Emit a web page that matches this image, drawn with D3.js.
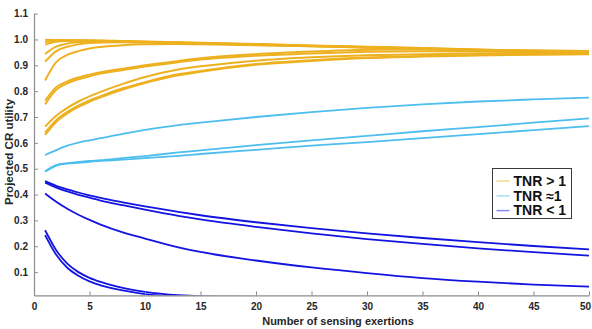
<!DOCTYPE html>
<html>
<head>
<meta charset="utf-8">
<script src="https://cdn.jsdelivr.net/npm/d3@7/dist/d3.min.js"></script>
<style>
  html, body { margin: 0; padding: 0; background: #fff; }
  svg { display: block; font-family: "Liberation Sans", Arial, sans-serif; }
</style>
</head>
<body>
<svg id="chart" width="592" height="329"></svg>
<script>
// Number of sensing exertions at which the projected utility was evaluated
const exertions = [1, 2, 3, 4, 5, 6, 8, 10, 13, 15, 20, 25, 30, 35, 40, 45, 50];

// TNR > 1
const tnrHigh = [
  [0.999, 0.998, 0.997, 0.997, 0.996, 0.996, 0.994, 0.992, 0.989, 0.987, 0.982, 0.977, 0.972, 0.967, 0.961, 0.955, 0.949],
  [0.990, 0.996, 0.997, 0.997, 0.996, 0.995, 0.993, 0.991, 0.988, 0.986, 0.981, 0.976, 0.971, 0.966, 0.960, 0.954, 0.948],
  [0.980, 0.991, 0.994, 0.995, 0.995, 0.994, 0.992, 0.990, 0.987, 0.985, 0.980, 0.975, 0.970, 0.965, 0.959, 0.953, 0.947],
  [0.944, 0.972, 0.984, 0.989, 0.991, 0.992, 0.991, 0.989, 0.987, 0.985, 0.980, 0.975, 0.970, 0.964, 0.958, 0.952, 0.946],
  [0.914, 0.955, 0.972, 0.981, 0.986, 0.988, 0.989, 0.988, 0.986, 0.984, 0.979, 0.974, 0.969, 0.963, 0.957, 0.952, 0.946],
  [0.841, 0.912, 0.940, 0.955, 0.965, 0.971, 0.978, 0.981, 0.982, 0.981, 0.978, 0.974, 0.968, 0.963, 0.958, 0.953, 0.947],
  [0.763, 0.815, 0.838, 0.853, 0.864, 0.873, 0.887, 0.900, 0.917, 0.927, 0.943, 0.953, 0.960, 0.962, 0.960, 0.958, 0.955],
  [0.749, 0.805, 0.830, 0.846, 0.858, 0.868, 0.882, 0.895, 0.912, 0.922, 0.937, 0.946, 0.952, 0.954, 0.953, 0.951, 0.950],
  [0.663, 0.705, 0.735, 0.760, 0.780, 0.797, 0.828, 0.855, 0.884, 0.896, 0.918, 0.931, 0.939, 0.943, 0.946, 0.947, 0.947],
  [0.640, 0.688, 0.720, 0.744, 0.764, 0.781, 0.811, 0.835, 0.865, 0.878, 0.905, 0.920, 0.930, 0.936, 0.940, 0.943, 0.944],
  [0.631, 0.681, 0.714, 0.739, 0.759, 0.776, 0.806, 0.831, 0.861, 0.875, 0.902, 0.917, 0.928, 0.934, 0.938, 0.941, 0.943]
];

// TNR ≈ 1
const tnrNear = [
  [0.553, 0.572, 0.589, 0.601, 0.610, 0.618, 0.635, 0.650, 0.669, 0.678, 0.700, 0.719, 0.735, 0.749, 0.760, 0.768, 0.775],
  [0.490, 0.514, 0.522, 0.526, 0.530, 0.533, 0.541, 0.549, 0.563, 0.571, 0.591, 0.610, 0.627, 0.645, 0.661, 0.678, 0.695],
  [0.488, 0.512, 0.520, 0.523, 0.527, 0.530, 0.535, 0.541, 0.550, 0.557, 0.573, 0.589, 0.603, 0.618, 0.634, 0.649, 0.665]
];

// TNR < 1
const tnrLow = [
  [0.452, 0.434, 0.420, 0.408, 0.397, 0.387, 0.370, 0.354, 0.333, 0.320, 0.293, 0.270, 0.250, 0.232, 0.216, 0.201, 0.188],
  [0.446, 0.427, 0.412, 0.399, 0.388, 0.377, 0.359, 0.342, 0.318, 0.304, 0.275, 0.250, 0.228, 0.209, 0.192, 0.177, 0.164],
  [0.404, 0.372, 0.345, 0.322, 0.302, 0.284, 0.254, 0.230, 0.196, 0.178, 0.145, 0.118, 0.096, 0.077, 0.063, 0.052, 0.044],
  [0.262, 0.185, 0.133, 0.100, 0.078, 0.062, 0.039, 0.024, 0.011, 0.007, 0.004, 0.003, 0.002, 0.002, 0.001, 0.001, 0.001],
  [0.243, 0.167, 0.117, 0.086, 0.064, 0.049, 0.029, 0.015, 0.006, 0.004, 0.003, 0.002, 0.001, 0.001, 0.001, 0.001, 0.001]
];

const groupNames = ["TNR > 1", "TNR \u22481", "TNR < 1"];
const groupColors = ["#EDB120", "#4DBEEE", "#1414E0"];
const legendColors = ["#F5D690", "#A6DEF6", "#8A8AF2"];
const xTicks = [0, 5, 10, 15, 20, 25, 30, 35, 40, 45, 50];
const yTicks = [0.1, 0.2, 0.3, 0.4, 0.5, 0.6, 0.7, 0.8, 0.9, 1.0, 1.1];

const svg = d3.select("#chart");

const x = d3.scaleLinear().domain([0, 50]).range([34, 589]);
const y = d3.scaleLinear().domain([0.01, 1.1]).range([295.4, 13.6]);

const axisColor = "#8c8c8c";
const textColor = "#262626";

// clip region for the plot area
svg.append("defs").append("clipPath").attr("id", "plot-clip")
  .append("rect")
  .attr("x", x(0)).attr("y", y(1.1))
  .attr("width", x(50) - x(0)).attr("height", y(0.01) - y(1.1));

// series
const line = d3.line()
  .x((d, i) => x(exertions[i]))
  .y(d => y(d))
  .curve(d3.curveMonotoneX);

const lines = svg.append("g").attr("clip-path", "url(#plot-clip)");
[tnrHigh, tnrNear, tnrLow].forEach((group, gi) => {
  lines.append("g")
    .selectAll("path")
    .data(group)
    .join("path")
    .attr("d", line)
    .attr("fill", "none")
    .attr("stroke", groupColors[gi])
    .attr("stroke-width", gi === 0 ? 2 : 1.8)
    .attr("stroke-linejoin", "round");
});

// axes with inward ticks
const xAxis = svg.append("g")
  .attr("transform", `translate(0,${y(0.01)})`)
  .call(d3.axisBottom(x).tickValues(xTicks).tickSizeInner(-4).tickSizeOuter(0).tickPadding(8));
const yAxis = svg.append("g")
  .attr("transform", `translate(${x(0)},0)`)
  .call(d3.axisLeft(y).tickValues(yTicks).tickFormat(d3.format(".1f")).tickSizeInner(-4).tickSizeOuter(0).tickPadding(6));

[xAxis, yAxis].forEach(g => {
  g.select(".domain").attr("stroke", axisColor).attr("stroke-width", 1.2);
  g.selectAll(".tick line").attr("stroke", axisColor).attr("stroke-width", 1);
  g.selectAll(".tick text")
    .attr("fill", textColor)
    .style("font-family", "'Liberation Sans', Arial, sans-serif")
    .style("font-size", "10px")
    .style("font-weight", "bold");
});
// keep the last x tick label inside the canvas
xAxis.selectAll(".tick text").filter(d => d === 50).attr("text-anchor", "end").attr("dx", "1.5");

// axis titles
svg.append("text")
  .attr("x", 338).attr("y", 325)
  .attr("text-anchor", "middle")
  .attr("fill", textColor)
  .style("font-size", "11px").style("font-weight", "bold")
  .text("Number of sensing exertions");

svg.append("text")
  .attr("transform", "translate(13,152) rotate(-90)")
  .attr("text-anchor", "middle")
  .attr("fill", textColor)
  .style("font-size", "11.5px").style("font-weight", "bold")
  .text("Projected CR utility");

// legend
const legend = svg.append("g").attr("transform", "translate(492.5,168.5)");
legend.append("rect")
  .attr("width", 79).attr("height", 50)
  .attr("fill", "#fff").attr("stroke", "#3a3a3a").attr("stroke-width", 1);
groupNames.forEach((name, i) => {
  const row = legend.append("g").attr("transform", `translate(0,${12.5 + i * 14.8})`);
  row.append("line")
    .attr("x1", 4).attr("x2", 17)
    .attr("stroke", legendColors[i]).attr("stroke-width", 1.5);
  row.append("text")
    .attr("x", 21).attr("y", 4.8)
    .attr("fill", "#111")
    .style("font-size", "14px").style("font-weight", "bold")
    .text(name);
});
</script>
</body>
</html>
